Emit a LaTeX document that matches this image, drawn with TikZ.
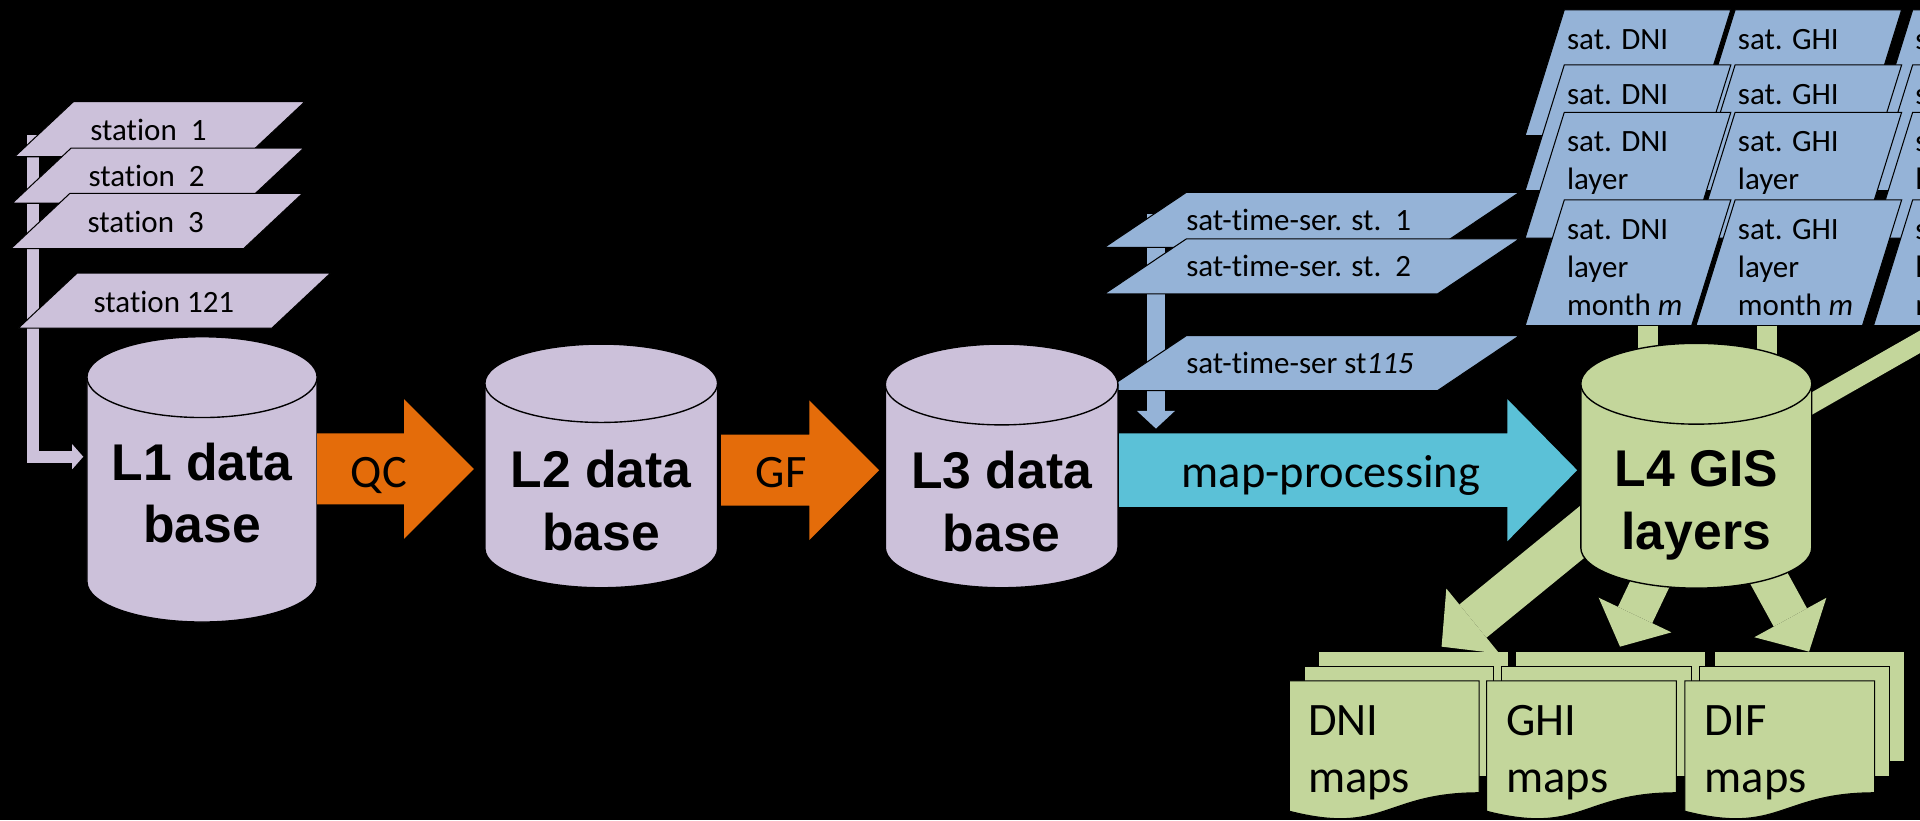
\documentclass[tikz,border=0pt]{standalone}
\usepackage{fontspec}
\setmainfont{Carlito}[Ligatures=NoCommon]
\newfontfamily\dbfont{Liberation Sans}
\usetikzlibrary{arrows.meta}
\definecolor{StationPurple}{HTML}{CCC1DA}
\definecolor{QcOrange}{HTML}{E46C0A}
\definecolor{MapCyan}{HTML}{5BC1D7}
\definecolor{SatBlue}{HTML}{95B3D7}
\definecolor{GisGreen}{HTML}{C3D69B}

\tikzset{
  stationbox/.style={fill=StationPurple, draw=black, line width=0.6pt},
  satbox/.style={fill=SatBlue, draw=black, line width=0.6pt},
  dbpurple/.style={fill=StationPurple, draw=black, line width=0.8pt},
  dbgreen/.style={fill=GisGreen, draw=black, line width=0.8pt},
  mappage/.style={fill=GisGreen, draw=black, line width=0.6pt},
  smalltext/.style={inner sep=0pt, font=\fontsize{18}{22}\selectfont},
  bigtext/.style={inner sep=0pt, font=\fontsize{27}{33.4}\selectfont},
  dbtext/.style={inner sep=0pt, align=center, anchor=north,
    font=\dbfont\bfseries\fontsize{30}{36.3}\selectfont},
  stationfeed/.style={draw=StationPurple, line width=0.25cm,
    -{Triangle[length=0.225cm, width=0.51cm, line width=0pt]}},
  satfeed/.style={draw=SatBlue, line width=0.375cm,
    -{Triangle[length=0.36cm, width=0.775cm, line width=0pt]}},
  gisbar/.style={draw=GisGreen, line width=0.4cm},
  gisarrow/.style n args={3}{draw=GisGreen, line width=#1,
    -{Triangle[length=#2, width=#3, line width=0pt]}},
}

% slanted data sheet: style, top-left x, top y, width, height, slant
\newcommand\slantbox[6]{\draw[#1] (#2,#3) -- ++(#4,0) -- ++(-#6,#5) -- ++(-#4,0) -- cycle;}

% data base cylinder: style, centre x, top y, bottom y, x radius, y radius
\newcommand\dbcyl[6]{%
  \path[#1] ({#2-#5},{#3+#6}) -- ({#2-#5},{#4-#6})
    .. controls ({#2-#5},{#4-0.448*#6}) and ({#2-0.552*#5},{#4}) .. ({#2},{#4})
    .. controls ({#2+0.552*#5},{#4}) and ({#2+#5},{#4-0.448*#6}) .. ({#2+#5},{#4-#6})
    -- ({#2+#5},{#3+#6});
  \draw[#1] ({#2},{#3+#6}) ellipse [x radius=#5, y radius=#6];
}

% block arrow: colour, tail x, head x, tip x, centre y, body half, head half
\newcommand\blockarrow[7]{\fill[#1] (#2,{#5-#6}) -- (#3,{#5-#6}) -- (#3,{#5-#7}) -- (#4,#5)
  -- (#3,{#5+#7}) -- (#3,{#5+#6}) -- (#2,{#5+#6}) -- cycle;}

% stack of three map pages: left x, top y
\newcommand\mapstack[2]{%
  \draw[mappage] ({#1+24},{#2-24}) rectangle ({#1+179},{#2+66});
  \draw[mappage] ({#1+12},{#2-12}) rectangle ({#1+167},{#2+78});
  \draw[mappage] (#1,#2) -- ++(155,0) -- ++(0,91.4)
    .. controls ({#1+77.5},{#2+91.4}) and ({#1+77.5},{#2+126.3}) .. (#1,{#2+106.5}) -- cycle;
}

\begin{document}
\begin{tikzpicture}[x=0.025cm, y=-0.025cm]
  \useasboundingbox (0,0) rectangle (1568,670);
  \clip (0,0) rectangle (1568,670);
  \fill[black] (0,0) rectangle (1568,670);

  % station time series
  \coordinate (stfeed) at (27,110);
  \coordinate (l1in) at (68,373);
  \draw[stationfeed] (stfeed) |- (l1in);
  \foreach \tlx/\ty/\w/\lbl/\tx/\base/\nm in {60/83/189/{station~~1}/73.5/115/st1,
      58/121/190/{station~~2}/72/152.5/st2, 57/158/190/{station~~3}/71.3/190/st3,
      63/223/207/{station 121}/76.2/255/st121}{%
    \slantbox{stationbox}{\tlx}{\ty}{\w}{45}{48}
    \node[smalltext, anchor=base west] (\nm) at (\tx,\base) {\lbl};
  }

  % satellite time series
  \coordinate (satfeed) at (944,175);
  \coordinate (mapin) at (944,350);
  \draw[satfeed] (satfeed) -- (mapin);
  \foreach \ty/\lbl/\base/\nm in {157/{sat-time-ser. st.~~1}/188.6/sat1,
      195/{sat-time-ser. st.~~2}/226/sat2, 274/{sat-time-ser st\textit{115}}/304.7/sat115}{%
    \slantbox{satbox}{969}{\ty}{272}{45}{67}
    \node[smalltext, anchor=base west] (\nm) at (968.5,\base) {\lbl};
  }

  % data bases L1 -- L3
  \dbcyl{dbpurple}{165}{275}{508}{94}{33}
  \node[dbtext] (l1) at (165,356.3) {\strut L1 data\\base};
  \dbcyl{dbpurple}{491}{281}{480}{95}{32}
  \node[dbtext] (l2) at (491,362.3) {\strut L2 data\\base};
  \dbcyl{dbpurple}{818}{281}{480}{95}{33}
  \node[dbtext] (l3) at (818,363) {\strut L3 data\\base};

  % processing steps
  \blockarrow{QcOrange}{259}{330}{387}{383}{29}{57}
  \node[bigtext, anchor=base] (qc) at (309.5,398) {QC};
  \blockarrow{QcOrange}{589}{661}{718}{384}{29}{57}
  \node[bigtext, anchor=base] (gf) at (638,398) {GF};
  \blockarrow{MapCyan}{914}{1231}{1288}{384}{30}{58}
  \node[bigtext, anchor=base] (mapproc) at (1087,398) {map-processing};

  % satellite layers, back to front
  \foreach \lev/\ty/\txt in {1/8/{\lna}, 2/53/{\lna}, 3/91.7/{\lna\\\lnb},
      4/163.3/{\lna\\\lnb\\\lnc}}{%
    \foreach \tlx/\sat/\lna/\lnb/\lnc in {1277.5/dni/{sat. DNI}/layer/{month \textit{m}},
        1417/ghi/{sat. GHI}/layer/{month \textit{m}}, 1562/sdc/s/l/m}{%
      \slantbox{satbox}{\tlx}{\ty}{136}{102.7}{32}
      \node[smalltext, align=left, anchor=north west] (\sat\lev) at ({\tlx+2},{\ty+10.35}) {\strut\txt};
    }
  }

  % map products
  \mapstack{1053}{556}
  \mapstack{1214}{556}
  \mapstack{1376}{556}
  \node[bigtext, align=left, anchor=north west] (dnimaps) at (1068,567.1) {\strut DNI\\maps};
  \node[bigtext, align=left, anchor=north west] (ghimaps) at (1230,567.1) {\strut GHI\\maps};
  \node[bigtext, align=left, anchor=north west] (difmaps) at (1392,567.1) {\strut DIF\\maps};

  % layers into L4 and L4 out to the maps
  \coordinate (dnifoot) at (1346,266);
  \coordinate (ghifoot) at (1443,266);
  \coordinate (sdcfoot) at (1591,266);
  \coordinate (l4top) at (1385.3,313);
  \coordinate (l4mid) at (1385.3,383.4);
  \draw[gisbar] (dnifoot) -- (dnifoot |- l4top);
  \draw[gisbar] (ghifoot) -- (ghifoot |- l4top);
  \draw[gisbar] (sdcfoot) -- (l4mid);

  \coordinate (gisout1) at (1385,358.5);
  \coordinate (gisout2) at (1384,400);
  \coordinate (gisout3) at (1405,400);
  \coordinate (dnitip) at (1177.3,528.1);
  \coordinate (ghitip) at (1323,528.1);
  \coordinate (diftip) at (1477.4,532.2);
  \draw[gisarrow={0.875cm}{0.825cm}{1.715cm}] (gisout1) -- (dnitip);
  \draw[gisarrow={0.775cm}{0.715cm}{1.645cm}] (gisout2) -- (ghitip);
  \draw[gisarrow={0.775cm}{0.795cm}{1.675cm}] (gisout3) -- (diftip);

  \dbcyl{dbgreen}{1385.3}{280.4}{480.3}{94.3}{33}
  \node[dbtext] (l4) at (1385.3,361.7) {\strut L4 GIS\\layers};
\end{tikzpicture}
\end{document}
